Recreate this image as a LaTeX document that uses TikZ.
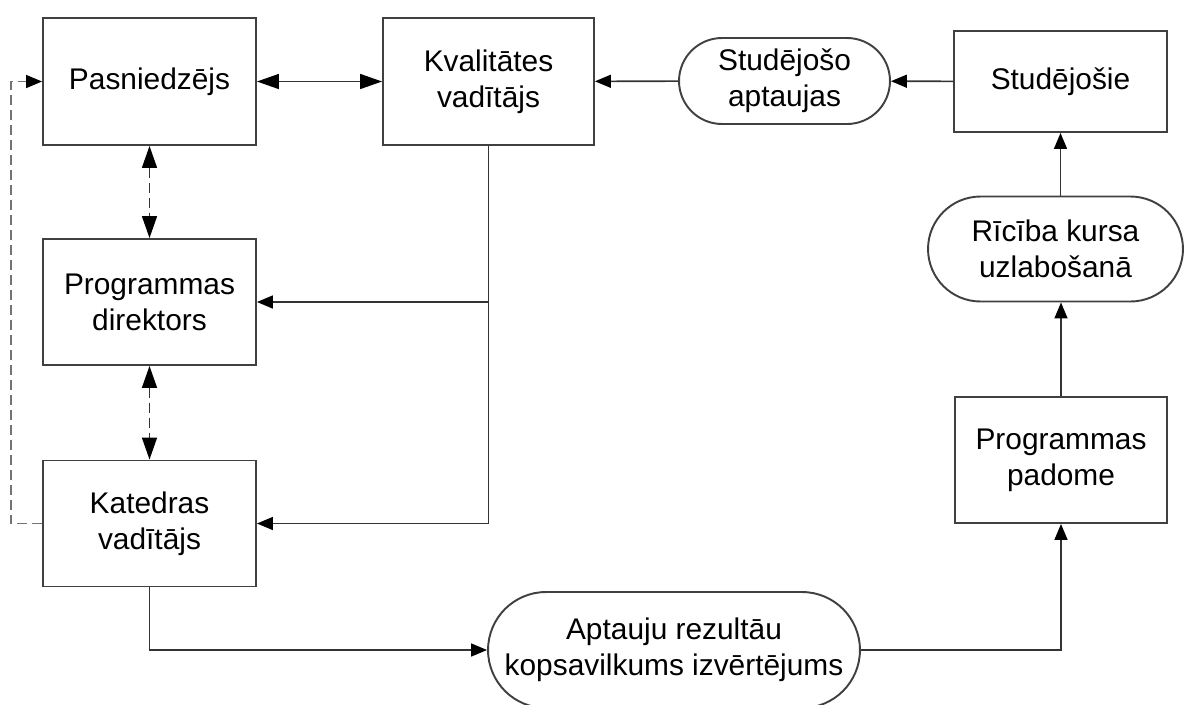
\documentclass[tikz,border=0pt]{standalone}
\usepackage{fontspec}
\setmainfont{Liberation Sans}
\usetikzlibrary{arrows.meta,shapes.misc}

\begin{document}
\begin{tikzpicture}[x=0.02cm, y=-0.02cm,
    kaste/.style={draw=black!75, line width=1.1pt, minimum width=4.26cm, minimum height=2.54cm,
        inner sep=0pt, align=center, font=\fontsize{17}{20.5}\selectfont},
    ovals/.style={kaste, rounded rectangle},
    bulta/.style={draw=black!80, line width=0.9pt, -{Triangle[length=0.32cm,width=0.26cm,black]}},
    lielbulta/.style={draw=black!80, line width=0.9pt,
        {Triangle[length=0.44cm,width=0.3cm,black]}-{Triangle[length=0.44cm,width=0.3cm,black]}},
    raustita/.style={dash pattern=on 0.2cm off 0.1cm}]

    \useasboundingbox (0,0) rectangle (1184,704);

    % augseja rinda
    \node[kaste] (pasn) at (149.5,81.5) {Pasniedzējs};
    \node[kaste, minimum width=4.22cm] (kval) at (488.5,81.5) {Kvalitātes\\vadītājs};
    \node[ovals, minimum width=4.22cm, minimum height=1.72cm] (aptaujas) at (784.5,81) {Studējošo\\aptaujas};
    \node[kaste, minimum height=2.02cm] (stud) at (1060.5,81.5) {Studējošie};

    % kreisa kolonna
    \node[kaste, minimum height=2.52cm] (direkt) at (149.5,302) {Programmas\\direktors};
    \node[kaste, minimum height=2.52cm] (katedr) at (149.5,523.5) {Katedras\\vadītājs};

    % laba kolonna
    \node[ovals, minimum width=5.1cm, minimum height=2.1cm] (ricib) at (1055.5,249) {Rīcība kursa\\uzlabošanā};
    \node[kaste, minimum width=4.24cm, minimum height=2.52cm] (padome) at (1061,460) {Programmas\\padome};

    % apaksa
    \node[ovals, minimum width=7.44cm, minimum height=2.32cm] (kopsav) at (674,650) {Aptauju rezultāu\\kopsavilkums izvērtējums};

    % bultas
    \draw[lielbulta] (pasn) -- (kval);
    \draw[bulta] (aptaujas) -- (kval);
    \draw[bulta] (stud) -- (aptaujas);
    \draw[bulta] (stud.south |- ricib.north) -- (stud.south);
    \draw[bulta] (padome.north) -- (padome.north |- ricib.south);
    \draw[bulta] (kopsav.east) -| (padome.south);
    \draw[bulta] (katedr.south) |- (kopsav.west);
    \draw[bulta] (kval.south) |- (katedr.east);
    \draw[bulta] (kval.south |- direkt.east) -- (direkt.east);

    % raustitas
    \draw[lielbulta, raustita] (pasn.south) -- (direkt.north);
    \draw[lielbulta, raustita] (direkt.south) -- (katedr.north);
    \draw[bulta, raustita, draw=black!55] (katedr.west) -- ++(-31,0) |- (pasn.west);

\end{tikzpicture}
\end{document}
